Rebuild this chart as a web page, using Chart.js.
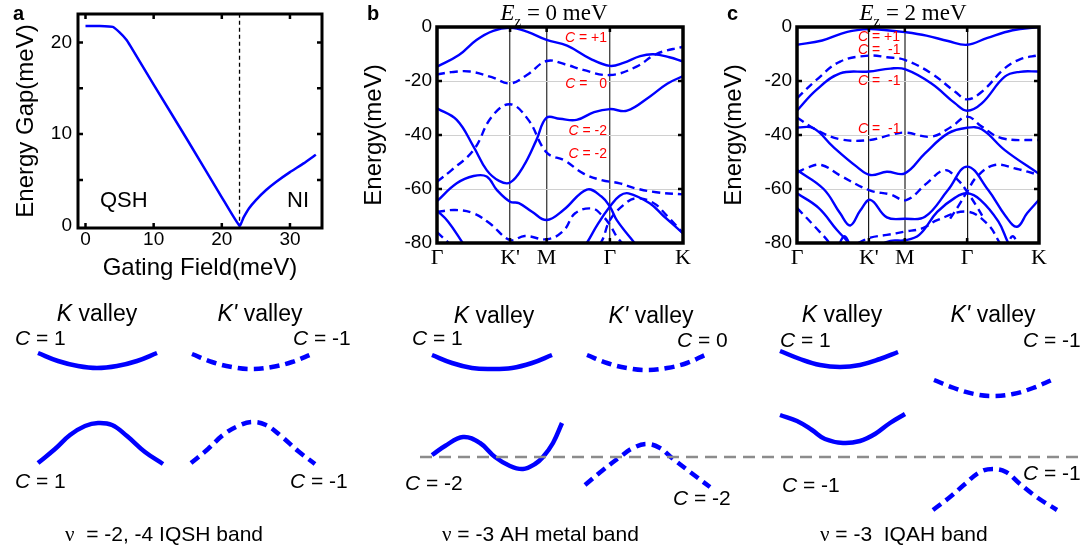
<!DOCTYPE html>
<html>
<head>
<meta charset="utf-8">
<script src="https://cdn.jsdelivr.net/npm/chart.js@4.4.1/dist/chart.umd.min.js"></script>
<style>
  body { margin: 0; background: #fff; }
  #fig { position: relative; width: 1092px; height: 554px; overflow: hidden; font-family: Arial, "Liberation Sans", sans-serif; }
  #fig canvas { position: absolute; }
  .t { position: absolute; white-space: pre; line-height: 1; color: #000; }
  .c { transform: translateX(-50%); }
  .lbl { font-size: 21px; }
  .valley { font-size: 23px; }
  .red { font-size: 14px; color: #ff0000; }
  .serif { font-family: "Liberation Serif", "Times New Roman", serif; }
  .title { font-family: "Liberation Serif", "Times New Roman", serif; font-size: 23px; }
  .title sub { font-size: 15px; line-height: 0; }
  .letter { font-weight: bold; font-size: 20px; }
</style>
</head>
<body>
<div id="fig">
  <canvas id="chartA" width="340" height="290" style="left:0;top:0"></canvas>
  <canvas id="chartB" width="360" height="290" style="left:360px;top:0"></canvas>
  <canvas id="chartC" width="372" height="290" style="left:720px;top:0"></canvas>
  <canvas id="chartS" width="1092" height="264" style="left:0;top:290px"></canvas>

  <div class="t letter" style="left:13px;top:3px">a</div>
  <div class="t letter" style="left:367px;top:3px">b</div>
  <div class="t letter" style="left:727px;top:3px">c</div>

  <div class="t" style="left:100px;top:189px;font-size:22px">QSH</div>
  <div class="t" style="left:287px;top:189px;font-size:22px">NI</div>

  <div class="t title c" style="left:554px;top:1px"><i>E</i><sub>z</sub> = 0 meV</div>
  <div class="t title c" style="left:913px;top:1px"><i>E</i><sub>z</sub> = 2 meV</div>

  <div class="t red" style="right:485px;top:30px"><i>C</i> = +1</div>
  <div class="t red" style="right:485px;top:76px"><i>C</i> =   0</div>
  <div class="t red" style="right:485px;top:123px"><i>C</i> = -2</div>
  <div class="t red" style="right:485px;top:146px"><i>C</i> = -2</div>

  <div class="t red" style="left:858px;top:29px"><i>C</i> = +1</div>
  <div class="t red" style="left:858px;top:42px"><i>C</i> =  -1</div>
  <div class="t red" style="left:858px;top:73px"><i>C</i> =  -1</div>
  <div class="t red" style="left:858px;top:121px"><i>C</i> =  -1</div>

  <div class="t valley c" style="left:97px;top:302px"><i>K</i> valley</div>
  <div class="t valley c" style="left:260px;top:302px"><i>K'</i> valley</div>
  <div class="t lbl" style="left:15px;top:327px"><i>C</i> = 1</div>
  <div class="t lbl" style="left:293px;top:327px"><i>C</i> = -1</div>
  <div class="t lbl" style="left:15px;top:470px"><i>C</i> = 1</div>
  <div class="t lbl" style="left:290px;top:470px"><i>C</i> = -1</div>
  <div class="t lbl" style="left:65px;top:523px"><span class="serif">ν</span>  = -2, -4 IQSH band</div>

  <div class="t valley c" style="left:494px;top:304px"><i>K</i> valley</div>
  <div class="t valley c" style="left:651px;top:304px"><i>K'</i> valley</div>
  <div class="t lbl" style="left:412px;top:327px"><i>C</i> = 1</div>
  <div class="t lbl" style="left:677px;top:329px"><i>C</i> = 0</div>
  <div class="t lbl" style="left:405px;top:472px"><i>C</i> = -2</div>
  <div class="t lbl" style="left:673px;top:487px"><i>C</i> = -2</div>
  <div class="t lbl" style="left:442px;top:523px"><span class="serif">ν</span> = -3 AH metal band</div>

  <div class="t valley c" style="left:842px;top:303px"><i>K</i> valley</div>
  <div class="t valley c" style="left:993px;top:303px"><i>K'</i> valley</div>
  <div class="t lbl" style="left:780px;top:329px"><i>C</i> = 1</div>
  <div class="t lbl" style="left:1023px;top:329px"><i>C</i> = -1</div>
  <div class="t lbl" style="left:782px;top:474px"><i>C</i> = -1</div>
  <div class="t lbl" style="left:1023px;top:462px"><i>C</i> = -1</div>
  <div class="t lbl" style="left:820px;top:523px"><span class="serif">ν</span> = -3  IQAH band</div>
</div>

<script>
// ---- panel a : energy gap vs gating field ----
const gapField = [0, 2, 4, 5, 6, 6.6, 10, 15, 20, 22.6, 23.2, 24, 25, 26.5, 28, 30, 32, 33.8];
const gapValue = [21.8, 21.8, 21.7, 21.1, 20.3, 19.6, 15.4, 9.3, 3.1, 0, 0.9, 1.9, 2.8, 3.9, 4.8, 5.85, 6.8, 7.75];
const gapXTicks = [0, 10, 20, 30];
const gapYTicks = [0, 10, 20];
const gapYMinor = [5, 10, 15, 20];
const transitionField = 22.6;

// ---- panels b, c : band structures along the k path ----
const kPath = [0, 1, 1.5, 2.366, 3.366];
const kLabels = ['Γ', "K'", 'M', 'Γ', 'K'];
const kInner = [1, 1.5, 2.366];
const energyMarks = [-20, -40, -60];

// Ez = 0 meV
const b1 = [[0,-14.7],[0.3,-10.4],[0.54,-4.8],[0.77,-1.4],[1.0,-0.3],[1.23,-1.7],[1.5,-4.8],[1.78,-6.9],[2.1,-11.8],[2.366,-14.4],[2.55,-13.3],[2.78,-10.8],[2.96,-10.1],[3.18,-11.2],[3.366,-12.8]];
const b2 = [[0,-17.6],[0.2,-16.7],[0.45,-16.5],[0.75,-18.6],[1.0,-20.9],[1.23,-17.8],[1.5,-12.6],[1.75,-13.8],[2.0,-15.9],[2.366,-17.8],[2.73,-14.7],[3.0,-10],[3.366,-7.3]];
const b3 = [[0,-30.1],[0.27,-34.4],[0.5,-44.3],[0.68,-53],[0.85,-57],[1.0,-57.6],[1.18,-51.7],[1.36,-41.9],[1.5,-33.6],[1.68,-34],[1.91,-34.4],[2.15,-31.5],[2.366,-30.4],[2.6,-31],[2.91,-25.8],[3.15,-21],[3.366,-18.2]];
const b4 = [[0,-57.3],[0.2,-53],[0.5,-45.6],[0.75,-33.2],[1.0,-28.6],[1.25,-34.4],[1.5,-46.5],[1.75,-49.5],[2.0,-54.2],[2.25,-56.7],[2.5,-57.9],[2.71,-59.7],[3.0,-61.2],[3.366,-62]];
const b5 = [[0,-64.5],[0.27,-57.9],[0.5,-55.2],[0.68,-55.4],[0.82,-60.4],[1.0,-64.7],[1.12,-65.2],[1.3,-68.4],[1.5,-71.5],[1.73,-67.8],[2.05,-60.2],[2.25,-62.8],[2.366,-66.5],[2.46,-71.5],[2.69,-79.5],[2.8,-83]];
const b6 = [[1.95,-84],[2.05,-80],[2.2,-73],[2.366,-66.5],[2.5,-62.5],[2.62,-61.6],[2.91,-65.3],[3.1,-70],[3.366,-76.4]];
const b7 = [[0,-68.5],[0.25,-67.8],[0.5,-69],[0.72,-72.7],[1.0,-78.9],[1.2,-77.4],[1.51,-78.6],[1.73,-75.5],[1.89,-69],[2.12,-67.2],[2.26,-69.8],[2.366,-73.3],[2.46,-77.7],[2.53,-80],[2.6,-83]];
const b8 = [[2.1,-84],[2.25,-79.5],[2.366,-71.5],[2.55,-66],[2.71,-63.5],[2.95,-65],[3.15,-70],[3.366,-76.4]];
const b9 = [[0,-68],[0.15,-72],[0.34,-79.5],[0.42,-83]];
const b10 = [[0,-76],[0.08,-78],[0.16,-80],[0.22,-82]];

// Ez = 2 meV
const c1 = [[0,-6.6],[0.35,-5],[0.7,-1.8],[1.0,-0.8],[1.25,-1.2],[1.5,-1.9],[1.8,-3.2],[2.1,-5.2],[2.366,-6.6],[2.65,-4],[3.0,-1.2],[3.366,0]];
const c2 = [[0,-26.4],[0.27,-19.6],[0.6,-12.8],[1.0,-10.6],[1.25,-11.2],[1.5,-12.2],[1.87,-17.2],[2.2,-24],[2.366,-26.8],[2.57,-24],[2.89,-15.3],[3.1,-12],[3.366,-10.4]];
const c3 = [[0,-31],[0.27,-23.3],[0.6,-17.2],[1.0,-16.5],[1.3,-15.4],[1.5,-15.6],[1.87,-20.9],[2.2,-28.3],[2.366,-31],[2.57,-28.3],[2.89,-18.4],[3.1,-16.6],[3.366,-16.5]];
const c4 = [[0,-33.5],[0.27,-38.1],[0.6,-41.6],[1.0,-41.9],[1.3,-40],[1.5,-39.1],[1.87,-40.6],[2.15,-36.9],[2.366,-33.2],[2.57,-36.9],[2.85,-41.2],[3.366,-41.9]];
const c5 = [[0,-37.2],[0.23,-37.5],[0.5,-44.3],[0.83,-51.7],[1.02,-54.8],[1.25,-53.6],[1.5,-54.2],[1.78,-46.8],[2.1,-39.4],[2.366,-37.3],[2.57,-37.9],[2.89,-45.6],[3.366,-54.4]];
const c6 = [[0,-54],[0.15,-52],[0.34,-51.1],[0.6,-55],[1.02,-60.6],[1.3,-62],[1.52,-64.1],[1.8,-58],[2.06,-53],[2.25,-57],[2.366,-61],[2.5,-66.5],[2.6,-71]];
const c12 = [[2.13,-71],[2.24,-66.5],[2.366,-61],[2.5,-55.5],[2.75,-51.1],[3.05,-52.5],[3.366,-54.8]];
const c7 = [[0,-53],[0.37,-60],[0.6,-69],[0.74,-73.5],[0.88,-68],[1.02,-64],[1.25,-70.5],[1.5,-71],[1.78,-70.3],[2.1,-60.4],[2.366,-51.7],[2.66,-60.4],[2.9,-70],[3.06,-74],[3.2,-69],[3.366,-64]];
const c8 = [[0,-61.6],[0.3,-67],[0.55,-75],[0.72,-80],[0.8,-83],[0.9,null],[1.05,-82],[1.3,-79.2],[1.5,-79],[1.7,-77],[1.95,-68.5],[2.2,-63.2],[2.366,-61.6],[2.55,-64],[2.8,-72],[2.93,-79.5],[3.0,-83]];
const c9 = [[0,-67],[0.25,-74],[0.45,-80],[0.5,-83],[0.7,null],[0.85,-80],[1.02,-78],[1.25,-77],[1.5,-75.8],[1.75,-74.5],[1.95,-71.5],[2.366,-68.4],[2.65,-73],[2.82,-80],[2.88,-83]];
const c10 = [[0.55,-83],[0.66,-77.5],[0.77,-83]];
const c11 = [[2.9,-83],[3.0,-77.5],[3.1,-83]];

const bSolid = [b1, b3, b5, b6, b9];
const bDashed = [b2, b4, b7, b8, b10];
const cSolid = [c1, c3, c5, c7, c8, c10];
const cDashed = [c2, c4, c6, c12, c9, c11];

// ---- bottom schematic (x across figure, y = height above page bottom) ----
const s1KTop = [[38,201],[58,193],[78,188],[97,186],[117,188],[137,193],[157,201]];
const s1KpTop = [[192,200],[212,192],[232,187],[252,185],[272,187],[292,192],[312,200]];
const s1KBot = [[38,91],[55,105],[70,119],[85,128],[98,131],[112,129],[127,118],[145,102],[163,90]];
const s1KpBot = [[191,91],[208,105],[223,119],[238,128],[252,132],[266,129],[281,118],[298,103],[315,90]];

const s2KTop = [[432,199],[452,191],[472,186],[490,185],[512,186],[532,191],[552,199]];
const s2KpTop = [[587,199],[607,191],[627,186],[647,184],[667,186],[687,191],[705,199]];
const s2KBot = [[432,99],[445,108],[463,117],[480,111],[495,97],[510,88],[523,85],[535,90],[543,97],[553,111],[562,131]];
const s2KpBot = [[585,69],[603,84],[620,97],[633,106],[647,110],[660,106],[672,96],[690,82],[710,67]];

const s3KTop = [[780,203],[800,195],[820,189],[840,187],[860,189],[880,195],[898,202]];
const s3KpTop = [[934,174],[954,166],[974,160],[993,158],[1013,160],[1033,166],[1052,174]];
const s3KBot = [[780,139],[797,133],[812,124],[825,115],[843,111],[860,113],[875,120],[890,131],[905,140]];
const s3KpBot = [[933,44],[950,57],[965,70],[980,82],[993,85],[1006,82],[1020,70],[1038,56],[1057,44]];

const fermiLevel = [[420,97],[1085,97]];

const schSolid = [s1KTop, s1KBot, s2KTop, s2KBot, s3KTop, s3KBot];
const schDashed = [s1KpTop, s1KpBot, s2KpTop, s2KpBot, s3KpTop, s3KpBot];

const BLUE = '#0000ff';
const AXIS_FONT = { family: 'Arial, "Liberation Sans", sans-serif', size: 24 };
const TICK_FONT = { family: 'Arial, "Liberation Sans", sans-serif', size: 19 };
const K_FONT = { family: '"Liberation Serif", "Times New Roman", serif', size: 22 };

const pts = arr => arr.map(([x, y]) => ({ x, y }));

function lineSet(arr, dashed, width, dash) {
    return {
        data: pts(arr),
        borderColor: BLUE,
        borderWidth: width,
        borderDash: dashed ? dash : [],
        pointRadius: 0,
        fill: false,
        tension: 0.4,
        spanGaps: false,
        clip: 0,
        order: 1
    };
}

// thick box around the plot area with inward tick marks
const framePlugin = {
    id: 'frame',
    afterDatasetsDraw(chart, args, opts) {
        const { ctx, chartArea: a, scales } = chart;
        ctx.save();
        ctx.strokeStyle = '#000';
        ctx.lineWidth = 2.5;
        const len = opts.len || 5;
        (opts.xMarks || []).forEach(v => {
            const px = scales.x.getPixelForValue(v);
            ctx.beginPath();
            ctx.moveTo(px, a.bottom); ctx.lineTo(px, a.bottom - len);
            ctx.moveTo(px, a.top); ctx.lineTo(px, a.top + len);
            ctx.stroke();
        });
        (opts.yMarks || []).forEach(v => {
            const py = scales.y.getPixelForValue(v);
            ctx.beginPath();
            ctx.moveTo(a.left, py); ctx.lineTo(a.left + len, py);
            ctx.moveTo(a.right, py); ctx.lineTo(a.right - len, py);
            ctx.stroke();
        });
        ctx.lineWidth = opts.width || 3;
        ctx.strokeRect(a.left, a.top, a.right - a.left, a.bottom - a.top);
        ctx.restore();
    }
};

// Panel a
new Chart(document.getElementById('chartA'), {
    type: 'line',
    data: {
        datasets: [
            Object.assign(lineSet(gapField.map((f, i) => [f, gapValue[i]]), false, 2.5), { tension: 0.15 }),
            {
                data: pts([[transitionField, -1], [transitionField, 24]]),
                borderColor: '#000', borderWidth: 1.3, borderDash: [4, 3],
                pointRadius: 0, clip: 0, order: 2
            }
        ]
    },
    options: {
        responsive: false,
        animation: false,
        layout: { padding: { top: 14, right: 18, left: 0, bottom: 0 } },
        plugins: {
            legend: { display: false },
            tooltip: { enabled: false },
            frame: { width: 3, len: 5, xMarks: gapXTicks, yMarks: gapYMinor }
        },
        scales: {
            x: {
                type: 'linear', min: -1.1, max: 34.7,
                afterBuildTicks: ax => { ax.ticks = gapXTicks.map(v => ({ value: v })); },
                afterFit: ax => { ax.height = 62; ax.paddingLeft = 0; ax.paddingRight = 0; },
                grid: { display: false, drawTicks: false },
                border: { display: false },
                ticks: { color: '#000', font: TICK_FONT, padding: 0, maxRotation: 0, autoSkip: false },
                title: { display: true, text: 'Gating Field(meV)', color: '#000', font: AXIS_FONT, padding: { top: 0, bottom: 7 } }
            },
            y: {
                type: 'linear', min: -0.25, max: 23.1,
                afterBuildTicks: ax => { ax.ticks = gapYTicks.map(v => ({ value: v })); },
                afterFit: ax => { ax.width = 78; ax.paddingTop = 0; ax.paddingBottom = 0; },
                grid: { display: false, drawTicks: false },
                border: { display: false },
                ticks: { color: '#000', font: TICK_FONT, padding: 6 },
                title: { display: true, text: 'Energy Gap(meV)', color: '#000', font: AXIS_FONT, padding: { top: 12, bottom: 0 } }
            }
        }
    },
    plugins: [framePlugin]
});

function bandChart(id, solid, dashed, rightPad, lineColor, lineWidth) {
    const datasets = [];
    solid.forEach(b => datasets.push(lineSet(b, false, 2.4)));
    dashed.forEach(b => datasets.push(lineSet(b, true, 2.4, [8, 5])));
    const inner = c => c.tick && c.tick.value > 0.01 && c.tick.value < 3.3;
    return new Chart(document.getElementById(id), {
        type: 'line',
        data: { datasets },
        options: {
            responsive: false,
            animation: false,
            layout: { padding: { top: 27, right: rightPad, left: 0, bottom: 0 } },
            plugins: {
                legend: { display: false },
                tooltip: { enabled: false },
                frame: { width: 3.5, len: 5, xMarks: kInner, yMarks: energyMarks }
            },
            scales: {
                x: {
                    type: 'linear', min: 0, max: 3.366,
                    afterBuildTicks: ax => { ax.ticks = kPath.map(v => ({ value: v })); },
                    afterFit: ax => { ax.height = 47; ax.paddingLeft = 0; ax.paddingRight = 0; },
                    grid: {
                        drawTicks: false,
                        lineWidth: c => inner(c) ? lineWidth(c.tick.value) : 0,
                        color: c => inner(c) ? lineColor(c.tick.value) : 'rgba(0,0,0,0)'
                    },
                    border: { display: false },
                    ticks: {
                        color: '#000', font: K_FONT, padding: 2, maxRotation: 0, autoSkip: false,
                        callback: (v, i) => kLabels[i]
                    }
                },
                y: {
                    type: 'linear', min: -80, max: 0,
                    ticks: { stepSize: 20, color: '#000', font: TICK_FONT, padding: 5 },
                    afterFit: ax => { ax.width = 77; ax.paddingTop = 0; ax.paddingBottom = 0; },
                    grid: {
                        drawTicks: false,
                        lineWidth: 1,
                        color: c => (c.tick && c.tick.value > -79 && c.tick.value < -1) ? '#d0d0d0' : 'rgba(0,0,0,0)'
                    },
                    border: { display: false },
                    title: { display: true, text: 'Energy(meV)', color: '#000', font: AXIS_FONT, padding: { top: 0, bottom: 0 } }
                }
            }
        },
        plugins: [framePlugin]
    });
}

bandChart('chartB', bSolid, bDashed, 37, () => '#4a4a4a', () => 1.4);
bandChart('chartC', cSolid, cDashed, 53,
    v => (v === 1.5 ? '#7a7a7a' : '#1a1a1a'),
    v => (v === 1.5 ? 2 : 1.2));

// Bottom schematic of valley bands
const schSets = [];
schSolid.forEach(s => schSets.push(Object.assign(lineSet(s, false, 4.5), { clip: false })));
schDashed.forEach(s => schSets.push(Object.assign(lineSet(s, true, 4.5, [10, 6]), { clip: false })));
schSets.push({
    data: pts(fermiLevel),
    borderColor: '#8c8c8c', borderWidth: 2.5, borderDash: [12, 7],
    pointRadius: 0, clip: false, order: 0
});

new Chart(document.getElementById('chartS'), {
    type: 'line',
    data: { datasets: schSets },
    options: {
        responsive: false,
        animation: false,
        layout: { padding: 0 },
        plugins: { legend: { display: false }, tooltip: { enabled: false } },
        scales: {
            x: { type: 'linear', min: 0, max: 1092, display: false },
            y: { type: 'linear', min: 0, max: 264, display: false }
        }
    }
});
</script>
</body>
</html>
